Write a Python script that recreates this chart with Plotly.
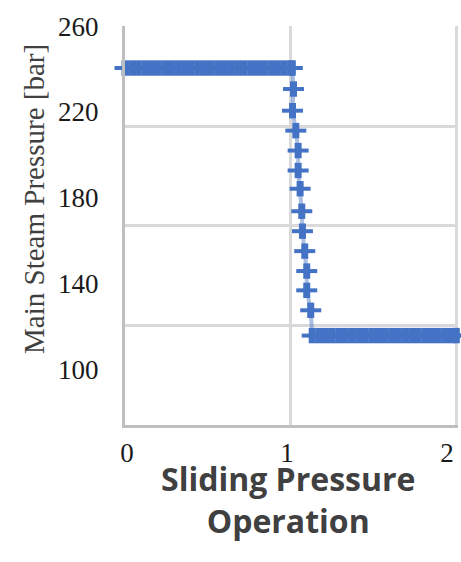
import plotly.graph_objects as go

# ---- data ----
top_x = [0, 0.04, 0.08, 0.12, 0.16, 0.2, 0.24, 0.28, 0.32, 0.36, 0.4, 0.44, 0.48,
         0.52, 0.56, 0.6, 0.64, 0.68, 0.72, 0.76, 0.8, 0.84, 0.88, 0.92, 0.96, 1.0, 1.01]
top_y = [240.5] * len(top_x)
drop_x = [1.017, 1.011, 1.031, 1.045, 1.045, 1.057, 1.067, 1.071, 1.085, 1.097, 1.097, 1.121]
drop_y = [230.7, 220.6, 211.3, 202.0, 192.7, 184.2, 173.7, 164.4, 155.1, 145.8, 136.8, 127.5]
bot_x = [1.13, 1.17, 1.21, 1.25, 1.29, 1.33, 1.37, 1.41, 1.45, 1.49, 1.53, 1.57, 1.61,
         1.65, 1.69, 1.73, 1.77, 1.81, 1.85, 1.89, 1.93, 1.97, 2.0]
bot_y = [115.7] * len(bot_x)

x_vals = top_x + drop_x + bot_x
y_vals = top_y + drop_y + bot_y

y_ticks = [100, 140, 180, 220, 260]
x_ticks = [0, 1, 2]

BLUE = "#4472C4"

fig = go.Figure()
# connecting line + horizontal arm of the "+" markers
fig.add_trace(go.Scatter(
    x=x_vals, y=y_vals, mode="lines+markers",
    line=dict(color="rgba(68,114,196,0.45)", width=4),
    marker=dict(symbol="line-ew", size=15, color=BLUE,
                line=dict(width=4, color=BLUE)),
    cliponaxis=False, showlegend=False, hoverinfo="skip",
))
# vertical arm of the "+" markers
fig.add_trace(go.Scatter(
    x=x_vals, y=y_vals, mode="markers",
    marker=dict(symbol="line-ns", size=11, color=BLUE,
                line=dict(width=7, color=BLUE)),
    cliponaxis=False, showlegend=False, hoverinfo="skip",
))
# empty trace so the overlay (label / grid) axes are drawn
fig.add_trace(go.Scatter(x=[], y=[], xaxis="x2", yaxis="y2",
                         showlegend=False, hoverinfo="skip"))

fig.update_layout(
    width=461, height=562,
    margin=dict(l=125, r=3, t=26, b=137),
    paper_bgcolor="white", plot_bgcolor="white",
    xaxis=dict(range=[0, 2.01], tickvals=x_ticks, showticklabels=False,
               showgrid=True, gridcolor="#D9D9D9", gridwidth=3,
               zeroline=False, showline=True, linecolor="#BFBFBF", linewidth=3,
               ticks="", automargin=False),
    xaxis2=dict(overlaying="x", range=[-0.0125, 2.069], tickvals=x_ticks,
                ticktext=[str(v) for v in x_ticks], side="bottom",
                showgrid=False, zeroline=False, showline=False,
                tickfont=dict(family="Liberation Serif", size=27, color="#1a1a1a"),
                ticks="outside", ticklen=4, tickcolor="rgba(0,0,0,0)",
                anchor="y", automargin=False),
    yaxis=dict(range=[74, 260.1], tickvals=y_ticks, showgrid=False,
               zeroline=False, showline=True, linecolor="#BFBFBF", linewidth=3,
               tickfont=dict(family="Liberation Serif", size=27, color="#1a1a1a"),
               ticks="outside", ticklen=18, tickcolor="rgba(0,0,0,0)",
               automargin=False),
    yaxis2=dict(overlaying="y", range=[0, 4.008], dtick=1, showgrid=True,
                gridcolor="#D9D9D9", gridwidth=3, showticklabels=False,
                zeroline=False, showline=False, ticks="", anchor="x",
                automargin=False),
)

fig.add_annotation(
    text="Main Steam Pressure [bar]",
    xref="paper", yref="paper", x=-0.274, y=0.566,
    xanchor="center", yanchor="middle", textangle=-90, showarrow=False,
    font=dict(family="Liberation Serif", size=29, color="#404040"),
)

fig.add_annotation(
    text="<b>Sliding Pressure<br>Operation</b>",
    xref="paper", yref="paper", x=0.49, y=-0.076, xanchor="center", yanchor="top",
    showarrow=False, align="center",
    font=dict(family="Open Sans", size=32, color="#404040"),
)

fig.write_html("out.html", config={"displayModeBar": False},
               post_script="document.body.style.margin='0';")
